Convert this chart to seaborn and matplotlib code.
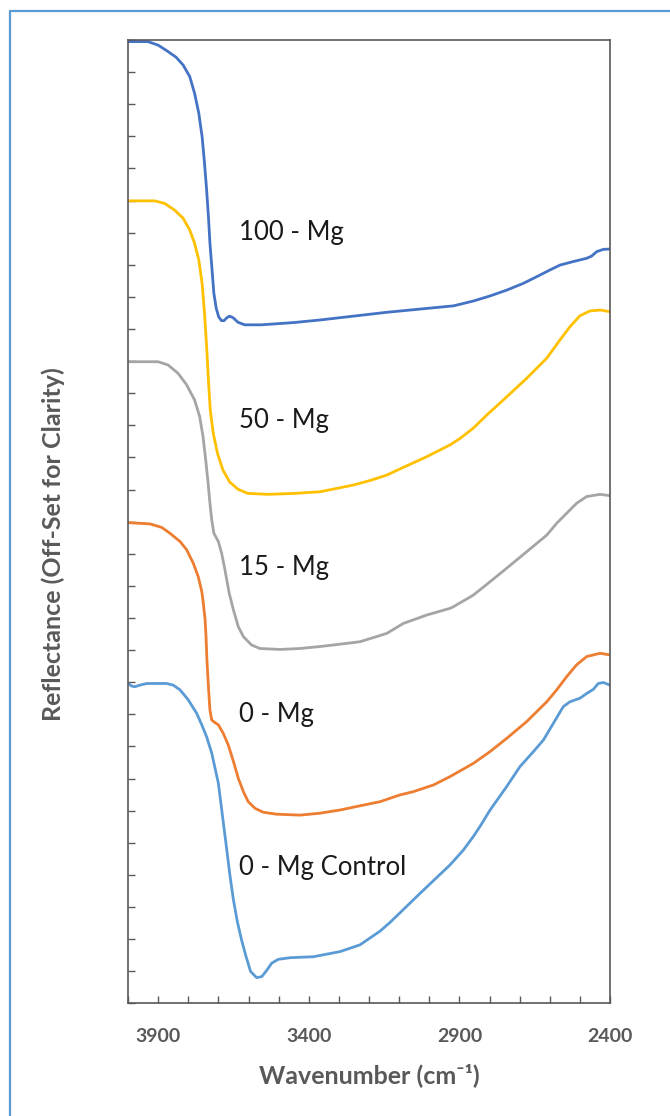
import numpy as np
import pandas as pd
import matplotlib
matplotlib.use("Agg")
import matplotlib.pyplot as plt
from matplotlib.lines import Line2D
from matplotlib.ticker import FixedLocator, FuncFormatter
import seaborn as sns

# ---- spectra (wavenumber in cm-1, reflectance with vertical offsets) ----
wn_100 = [4000, 3934, 3900, 3867, 3840, 3817, 3795, 3779, 3765, 3754, 3746, 3739,
          3733, 3728, 3721, 3715, 3707, 3699, 3690, 3681, 3672, 3663, 3651, 3635,
          3613, 3557, 3450, 3363, 3252, 3141, 3031, 2920, 2854, 2798, 2743, 2688,
          2643, 2599, 2566, 2522, 2478, 2461, 2444, 2422, 2400]
r_100 = [29.95, 29.95, 29.84, 29.64, 29.46, 29.22, 28.86, 28.34, 27.72, 26.99, 26.16,
         25.33, 24.50, 23.67, 22.84, 22.11, 21.64, 21.38, 21.26, 21.26, 21.35, 21.40,
         21.35, 21.21, 21.13, 21.13, 21.20, 21.28, 21.40, 21.52, 21.62, 21.72, 21.87,
         22.03, 22.21, 22.42, 22.63, 22.84, 22.99, 23.10, 23.20, 23.27, 23.41, 23.48,
         23.49]

wn_50 = [4000, 3911, 3878, 3845, 3817, 3795, 3779, 3765, 3754, 3746, 3739, 3733,
         3727, 3717, 3703, 3685, 3663, 3635, 3602, 3535, 3447, 3363, 3252, 3197,
         3141, 3086, 3009, 2931, 2898, 2854, 2809, 2754, 2677, 2610, 2566, 2533,
         2500, 2467, 2433, 2400]
r_50 = [24.99, 24.99, 24.91, 24.70, 24.45, 24.08, 23.67, 23.15, 22.42, 21.49, 20.45,
        19.41, 18.48, 17.75, 17.13, 16.61, 16.24, 16.01, 15.88, 15.85, 15.88, 15.93,
        16.14, 16.28, 16.45, 16.69, 17.02, 17.39, 17.59, 17.91, 18.32, 18.79, 19.46,
        20.09, 20.66, 21.07, 21.41, 21.56, 21.59, 21.54]

wn_15 = [4000, 3900, 3867, 3834, 3806, 3779, 3762, 3751, 3742, 3734, 3728, 3722,
         3715, 3700, 3689, 3678, 3664, 3650, 3634, 3617, 3590, 3562, 3495, 3429,
         3363, 3300, 3230, 3141, 3086, 3009, 2931, 2920, 2854, 2798, 2743, 2677,
         2610, 2577, 2544, 2511, 2478, 2433, 2400]
r_15 = [19.98, 19.98, 19.88, 19.62, 19.27, 18.79, 18.27, 17.65, 16.92, 16.19, 15.57,
        15.05, 14.64, 14.38, 14.01, 13.49, 12.77, 12.25, 11.73, 11.42, 11.16, 11.05,
        11.02, 11.05, 11.11, 11.18, 11.26, 11.52, 11.83, 12.09, 12.30, 12.35, 12.71,
        13.13, 13.55, 14.06, 14.58, 14.95, 15.26, 15.57, 15.78, 15.85, 15.81]

wn_0 = [4000, 3927, 3888, 3861, 3827, 3805, 3783, 3767, 3755, 3750, 3744, 3741,
        3738, 3733, 3728, 3722, 3711, 3700, 3684, 3667, 3650, 3634, 3617, 3601,
        3578, 3551, 3507, 3429, 3363, 3296, 3230, 3163, 3097, 3053, 2986, 2931,
        2854, 2798, 2743, 2677, 2610, 2577, 2544, 2511, 2477, 2433, 2400]
r_0 = [14.97, 14.93, 14.82, 14.64, 14.38, 14.12, 13.70, 13.29, 12.82, 12.46, 11.94,
       11.42, 10.69, 9.86, 9.13, 8.82, 8.74, 8.67, 8.41, 8.04, 7.53, 7.01, 6.59, 6.28,
       6.07, 5.95, 5.89, 5.86, 5.92, 6.02, 6.15, 6.28, 6.49, 6.59, 6.80, 7.06, 7.47,
       7.84, 8.25, 8.77, 9.39, 9.76, 10.17, 10.54, 10.80, 10.90, 10.85]

wn_ctrl = [4000, 3988, 3977, 3960, 3938, 3872, 3850, 3827, 3800, 3772, 3755, 3739,
           3722, 3700, 3686, 3672, 3661, 3650, 3637, 3623, 3608, 3593, 3573, 3556,
           3540, 3523, 3501, 3462, 3385, 3296, 3230, 3163, 3130, 3097, 3031, 2931,
           2887, 2854, 2832, 2798, 2743, 2699, 2654, 2621, 2588, 2555, 2533, 2500,
           2477, 2455, 2439, 2422, 2400]
r_ctrl = [9.96, 9.88, 9.86, 9.91, 9.96, 9.96, 9.91, 9.76, 9.45, 9.03, 8.67, 8.30,
          7.79, 6.85, 5.81, 4.77, 3.94, 3.22, 2.54, 1.97, 1.45, 0.99, 0.80, 0.83,
          1.02, 1.25, 1.37, 1.42, 1.45, 1.61, 1.82, 2.25, 2.52, 2.82, 3.42, 4.31,
          4.77, 5.19, 5.50, 6.02, 6.75, 7.37, 7.84, 8.20, 8.72, 9.24, 9.39, 9.50,
          9.65, 9.78, 9.96, 9.99, 9.91]

samples = ["100 - Mg", "50 - Mg", "15 - Mg", "0 - Mg", "0 - Mg Control"]
colors = ["#4472C4", "#FFC000", "#A5A5A5", "#ED7D31", "#5B9BD5"]
# label anchor: (wavenumber, reflectance at text baseline)
label_pos = [(3632, 23.77), (3632, 17.91), (3632, 13.34), (3632, 8.77), (3632, 4.00)]

x_major = [3900, 3400, 2900, 2400]

series = [(wn_100, r_100), (wn_50, r_50), (wn_15, r_15), (wn_0, r_0), (wn_ctrl, r_ctrl)]
frames = []
for name, (w, r) in zip(samples, series):
    frames.append(pd.DataFrame({"wavenumber": w, "reflectance": r, "sample": name}))
df = pd.concat(frames, ignore_index=True)

sns.set_theme(style="white")
plt.rcParams["font.family"] = ["Lato", "DejaVu Sans"]

W, H = 670, 1116
fig = plt.figure(figsize=(W / 100, H / 100), dpi=100)
fig.patch.set_facecolor("white")
ax = fig.add_axes([128 / W, 1 - 1003.3 / H, (610 - 128) / W, (1003.3 - 40) / H])

sns.lineplot(data=df, x="wavenumber", y="reflectance", hue="sample",
             palette=dict(zip(samples, colors)), hue_order=samples,
             estimator=None, sort=False, linewidth=2.0, legend=False, ax=ax)
for ln in ax.lines:
    ln.set_solid_joinstyle("round")
    ln.set_solid_capstyle("round")

ax.set_xlim(4000, 2400)
ax.set_ylim(0, 30)

gray = "#595959"
for s in ax.spines.values():
    s.set_visible(True)
    s.set_color(gray)
    s.set_linewidth(1.2)

ax.xaxis.set_major_locator(FixedLocator(list(range(2400, 4001, 100))))
ax.xaxis.set_major_formatter(FuncFormatter(lambda v, p: f"{int(round(v))}" if int(round(v)) in x_major else ""))
ax.yaxis.set_major_locator(FixedLocator(list(range(0, 31))))
ax.yaxis.set_major_formatter(FuncFormatter(lambda v, p: ""))
ax.tick_params(axis="both", direction="in", length=5, width=1, color=gray)
ax.tick_params(axis="x", pad=18, labelsize=14, labelcolor=gray)
for t in ax.get_xticklabels():
    t.set_fontweight("bold")
ax.tick_params(left=True, bottom=True, top=False, right=False)

ax.set_xlabel("Wavenumber (cm\u207b\u00b9)", fontsize=18, fontweight="bold",
              color=gray, labelpad=13)
ax.set_ylabel("Reflectance (Off-Set for Clarity)", fontsize=18, fontweight="bold",
              color=gray)
ax.yaxis.set_label_coords(-0.1307, 0.477)

for name, (lx, ly) in zip(samples, label_pos):
    ax.text(lx, ly, name, fontsize=18.5, color="#1a1a1a", ha="left", va="baseline")

# chart-area frame (top and left edges)
fig.add_artist(Line2D([10 / W, 10 / W], [0, 1 - 11 / H], transform=fig.transFigure,
                      color="#5B9BD5", linewidth=1.6))
fig.add_artist(Line2D([10 / W, 1], [1 - 11 / H, 1 - 11 / H], transform=fig.transFigure,
                      color="#5B9BD5", linewidth=1.6))

fig.savefig("out.png", dpi=100, facecolor="white")
